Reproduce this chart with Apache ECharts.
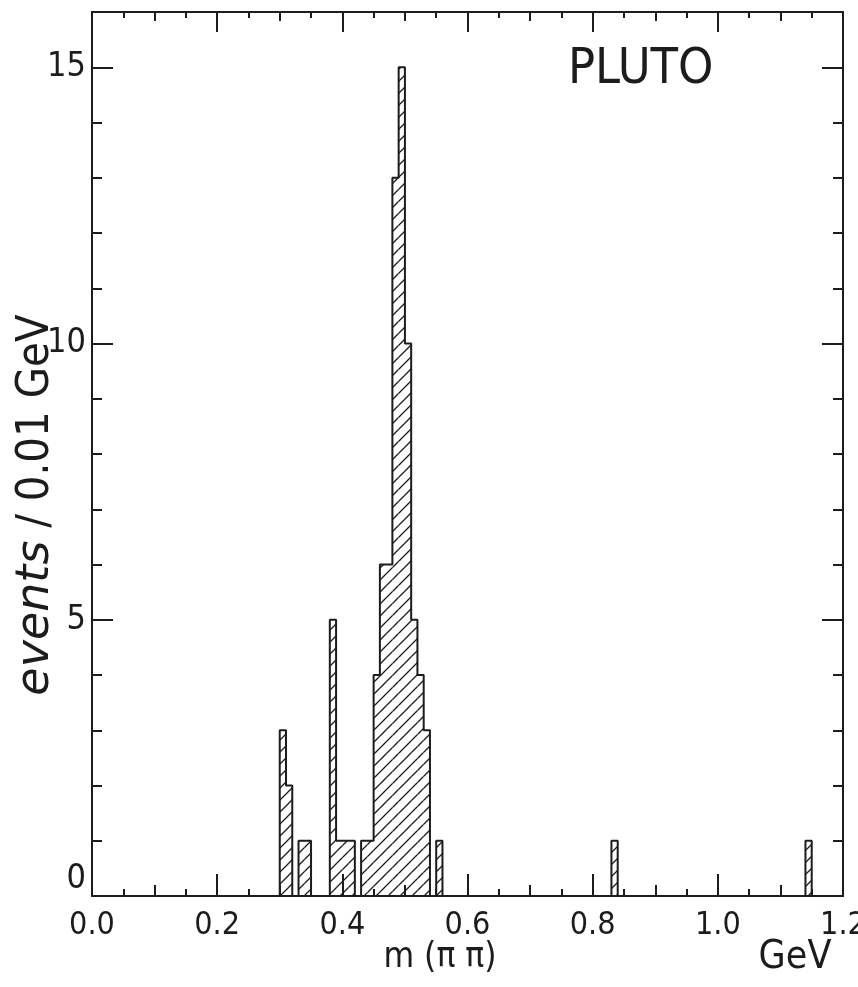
<!DOCTYPE html>
<html>
<head>
<meta charset="utf-8">
<script src="https://cdn.jsdelivr.net/npm/echarts@6/dist/echarts.min.js"></script>
<style>
  html, body { margin: 0; background: #fff; }
  #chart { width: 858px; height: 987px; }
</style>
</head>
<body>
<div id="chart"></div>
<script>
// histogram, 0.01 GeV bins: lower edge of each filled bin and its count
const BIN = 0.01;
const binLow = [0.30, 0.31, 0.33, 0.34, 0.38, 0.39, 0.40, 0.41, 0.43, 0.44, 0.45, 0.46, 0.47, 0.48, 0.49, 0.50, 0.51, 0.52, 0.53, 0.55, 0.83, 1.14];
const counts = [3, 2, 1, 1, 5, 1, 1, 1, 1, 1, 4, 6, 6, 13, 15, 10, 5, 4, 3, 1, 1, 1];

const xTickLabels = ["0.0", "0.2", "0.4", "0.6", "0.8", "1.0", "1.2"];
const yTickLabels = ["0", "5", "10", "15"];

const INK = "#1c1c1c";
const FONT = '"DejaVu Sans Condensed", "DejaVu Sans", sans-serif';
const WIDE = '"DejaVu Sans", sans-serif';

function hatchPattern() {
  const c = document.createElement("canvas");
  c.width = 12;
  c.height = 12;
  const g = c.getContext("2d");
  g.strokeStyle = INK;
  g.lineWidth = 1.3;
  g.beginPath();
  g.moveTo(-1, 13); g.lineTo(13, -1);
  g.moveTo(-1, 1); g.lineTo(1, -1);
  g.moveTo(11, 13); g.lineTo(13, 11);
  g.stroke();
  return { image: c, repeat: "repeat" };
}

// outline of each run of adjacent bins
function outlineGroups() {
  const groups = [];
  let pts = null;
  let prevHigh = null;
  binLow.forEach((lo, i) => {
    const hi = lo + BIN;
    if (pts === null || Math.abs(lo - prevHigh) > 1e-6) {
      if (pts) { pts.push([prevHigh, 0]); groups.push(pts); }
      pts = [[lo, 0]];
    }
    pts.push([lo, counts[i]], [hi, counts[i]]);
    prevHigh = hi;
  });
  pts.push([prevHigh, 0]);
  groups.push(pts);
  return groups;
}

const chart = echarts.init(document.getElementById("chart"), null, { renderer: "canvas" });
const fill = hatchPattern();
const tickStyle = { color: INK, width: 2 };

const xCommon = { type: "value", min: 0, max: 1.2, splitLine: { show: false } };
const yCommon = { type: "value", min: 0, max: 16, splitLine: { show: false } };

chart.setOption({
  backgroundColor: "#fff",
  animation: false,
  grid: { left: 92, right: 15, top: 12, bottom: 91, containLabel: false, outerBoundsMode: "none" },
  xAxis: [
    {
      ...xCommon, position: "bottom", interval: 0.2,
      axisLine: { show: true, onZero: false, lineStyle: tickStyle },
      axisTick: { show: true, inside: true, length: 22, lineStyle: tickStyle },
      minorTick: { show: true, splitNumber: 4, length: 7, lineStyle: tickStyle },
      axisLabel: {
        margin: 14, color: INK, fontFamily: FONT, fontSize: 32,
        formatter: (v) => xTickLabels[Math.round(v / 0.2)] ?? ""
      }
    },
    {
      ...xCommon, position: "top", interval: 0.2,
      axisLine: { show: true, onZero: false, lineStyle: tickStyle },
      axisTick: { show: true, inside: true, length: 20, lineStyle: tickStyle },
      minorTick: { show: true, splitNumber: 4, length: 6, lineStyle: tickStyle },
      axisLabel: { show: false }
    },
    {
      ...xCommon, position: "bottom", interval: 0.1,
      axisLine: { show: false, onZero: false },
      axisTick: { show: true, inside: true, length: 11, lineStyle: tickStyle },
      axisLabel: { show: false }
    },
    {
      ...xCommon, position: "top", interval: 0.1,
      axisLine: { show: false, onZero: false },
      axisTick: { show: true, inside: true, length: 9, lineStyle: tickStyle },
      axisLabel: { show: false }
    }
  ],
  yAxis: [
    {
      ...yCommon, position: "left", interval: 5,
      axisLine: { show: true, onZero: false, lineStyle: tickStyle },
      axisTick: { show: true, inside: true, length: 21, lineStyle: tickStyle },
      axisLabel: {
        margin: 6, color: INK, fontFamily: FONT, fontSize: 34,
        formatter: (v) => {
          const s = yTickLabels[Math.round(v / 5)];
          if (v % 5 !== 0 || s === undefined) return "";
          return v === 0 ? "{z|0}" : s;
        },
        rich: { z: { fontFamily: FONT, fontSize: 34, color: INK, padding: [0, 0, 34, 0] } }
      }
    },
    {
      ...yCommon, position: "right", interval: 5,
      axisLine: { show: true, onZero: false, lineStyle: tickStyle },
      axisTick: { show: true, inside: true, length: 21, lineStyle: tickStyle },
      axisLabel: { show: false }
    },
    {
      ...yCommon, position: "left", interval: 1,
      axisLine: { show: false, onZero: false },
      axisTick: { show: true, inside: true, length: 10, lineStyle: tickStyle },
      axisLabel: { show: false }
    },
    {
      ...yCommon, position: "right", interval: 1,
      axisLine: { show: false, onZero: false },
      axisTick: { show: true, inside: true, length: 10, lineStyle: tickStyle },
      axisLabel: { show: false }
    }
  ],
  graphic: [
    {
      type: "text", x: 568, y: 70,
      style: { text: "PLUTO", font: `50px ${FONT}`, fill: INK, verticalAlign: "middle" }
    },
    {
      type: "text", x: 36, y: 505, rotation: Math.PI / 2,
      style: {
        text: "{i|events} / 0.01 GeV",
        font: `45px ${FONT}`, fill: INK, align: "center", verticalAlign: "middle",
        rich: { i: { font: `italic 46px ${WIDE}`, fill: INK } }
      }
    },
    {
      type: "text", x: 440, y: 958,
      style: { text: "m (\u03c0 \u03c0)", font: `35px ${FONT}`, fill: INK, align: "center", verticalAlign: "middle" }
    },
    {
      type: "text", x: 795, y: 958,
      style: { text: "GeV", font: `39px ${FONT}`, fill: INK, align: "center", verticalAlign: "middle" }
    }
  ],
  series: [
    {
      type: "custom",
      xAxisIndex: 0,
      yAxisIndex: 0,
      silent: true,
      encode: { x: [0, 1], y: 2 },
      data: binLow.map((lo, i) => [lo, lo + BIN, counts[i]]),
      renderItem: (params, api) => {
        const p0 = api.coord([api.value(0), api.value(2)]);
        const p1 = api.coord([api.value(1), 0]);
        return {
          type: "rect",
          shape: { x: p0[0], y: p0[1], width: p1[0] - p0[0], height: p1[1] - p0[1] },
          style: { fill: fill, stroke: null }
        };
      }
    },
    ...outlineGroups().map((pts) => ({
      type: "line",
      xAxisIndex: 0,
      yAxisIndex: 0,
      silent: true,
      symbol: "none",
      data: pts,
      lineStyle: { color: INK, width: 2 }
    }))
  ]
});
</script>
</body>
</html>
